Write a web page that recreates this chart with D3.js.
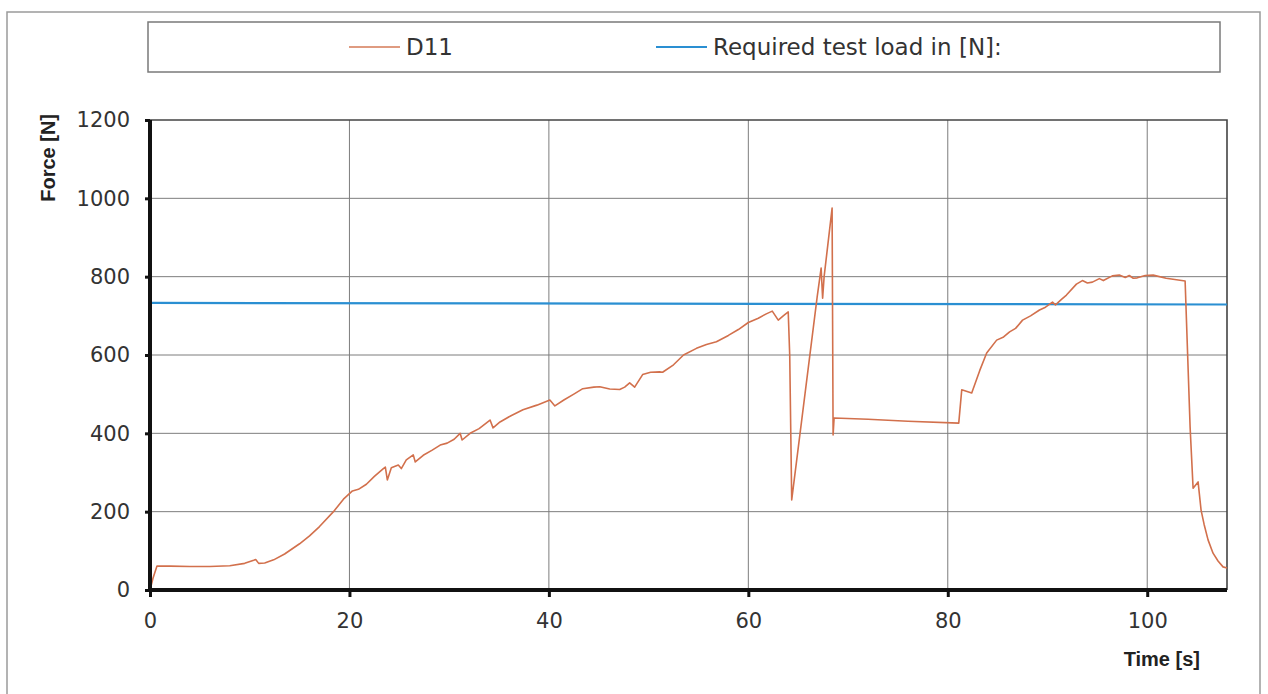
<!DOCTYPE html>
<html>
<head>
<meta charset="utf-8">
<script src="https://cdn.jsdelivr.net/npm/d3@7"></script>
<style>
  html, body { margin: 0; padding: 0; background: #fff; }
  svg { display: block; }
</style>
</head>
<body>
<svg id="chart" width="1268" height="694"></svg>
<script>
// D11 force curve (time in s, force in N)
const timeS = [
  0, 0.3, 0.7, 2, 4, 6, 8, 9.5, 10.4, 10.6, 10.9, 11.5, 12.4, 13.5, 15, 16, 17, 18.4, 19.4,
  20.3, 20.9, 21.7, 22.5, 23.4, 23.6, 23.8, 24.2, 24.9, 25.2, 25.7, 26.4, 26.6, 27.4, 28.3,
  29.1, 29.8, 30.5, 31.1, 31.3, 32.1, 33, 34.1, 34.4, 35.1, 36.2, 37.4, 38.8, 40.1, 40.6,
  41.5, 42.5, 43.4, 44.5, 45.1, 46.1, 47.1, 47.6, 48.1, 48.6, 49.4, 50.2, 51.1, 51.4, 52.5,
  53.5, 54.8, 55.8, 56.8, 58, 59, 60, 61, 61.8, 62.4, 63, 63.5, 64, 64.15, 64.35, 66.9,
  67.3, 67.45, 67.6, 68.4, 68.5, 68.6, 72, 76, 81.1, 81.4, 82.4, 83.2, 83.9, 84.9, 85.6,
  86.2, 86.8, 87.5, 88.3, 89.2, 89.8, 90.5, 90.8, 91.4, 91.9, 92.9, 93.5, 94, 94.5, 95.2,
  95.6, 96.5, 97.2, 97.8, 98.2, 98.6, 99, 99.8, 100.6, 101.9, 103.8, 104.3, 104.6, 105.1,
  105.4, 105.7, 106.1, 106.6, 107.1, 107.6, 108
];
const forceD11 = [
  0, 30, 61, 61, 60, 60, 62, 68, 76, 78, 68, 69, 77, 92, 118, 138, 162, 200, 232,
  253, 257, 270, 290, 310, 314, 281, 312, 319, 310, 332, 345, 327, 344, 357,
  370, 375, 385, 400, 383, 400, 412, 434, 414, 429, 445, 460, 472, 485, 470,
  485, 500, 514, 518, 519, 513, 512, 518, 529, 518, 550, 556, 557, 556, 575,
  600, 617, 627, 634, 650, 665, 683, 694, 705, 712, 689, 700, 710, 600, 230, 748,
  822, 745, 800, 975, 396, 439, 436, 431, 426, 511, 503, 560, 605, 638, 646,
  659, 668, 689, 700, 715, 722, 735, 728, 742, 753, 781, 790, 784, 786, 795,
  790, 802, 804, 798, 803, 796, 797, 803, 804, 796, 789, 416, 260, 276,
  204, 168, 128, 94, 74, 59, 56
];

// required test load line
const reqTime = [0, 108];
const reqLoad = [733, 729];

const xTicks = [0, 20, 40, 60, 80, 100];
const yTicks = [0, 200, 400, 600, 800, 1000, 1200];

const seriesNames = ["D11", "Required test load in [N]:"];
const seriesColors = ["#d2704c", "#2a8fd2"];

const svg = d3.select("#chart");

const margin = { left: 150, top: 120, right: 1268 - 1227, bottom: 694 - 590 };
const width = 1268 - margin.left - margin.right;
const height = 694 - margin.top - margin.bottom;

// outer frame of the figure
svg.append("rect")
  .attr("x", 7).attr("y", 12)
  .attr("width", 1253).attr("height", 700)
  .attr("fill", "#fff")
  .attr("stroke", "#9a9a9a")
  .attr("stroke-width", 1.5);

// legend
const legend = svg.append("g");
legend.append("rect")
  .attr("x", 148).attr("y", 22)
  .attr("width", 1072).attr("height", 50)
  .attr("fill", "#fff")
  .attr("stroke", "#7a7a7a")
  .attr("stroke-width", 1.5);

const legendX = [349, 656];
seriesNames.forEach((name, i) => {
  legend.append("line")
    .attr("x1", legendX[i]).attr("x2", legendX[i] + 51)
    .attr("y1", 47).attr("y2", 47)
    .attr("stroke", seriesColors[i])
    .attr("stroke-opacity", i === 0 ? 0.7 : 1)
    .attr("stroke-width", 2);
  legend.append("text")
    .attr("x", legendX[i] + 57)
    .attr("y", 55)
    .attr("font-family", "DejaVu Sans, Verdana, sans-serif")
    .attr("font-size", "23px")
    .attr("fill", "#333")
    .text(name);
});

const g = svg.append("g")
  .attr("transform", `translate(${margin.left},${margin.top})`);

const x = d3.scaleLinear().domain([0, 108]).range([0, width]);
const y = d3.scaleLinear().domain([0, 1200]).range([height, 0]);

// grid
g.append("g")
  .selectAll("line")
  .data(xTicks.filter(d => d > 0))
  .enter().append("line")
  .attr("x1", d => x(d)).attr("x2", d => x(d))
  .attr("y1", 0).attr("y2", height)
  .attr("stroke", "#7d7d7d").attr("stroke-width", 1);

g.append("g")
  .selectAll("line")
  .data(yTicks.filter(d => d > 0 && d < 1200))
  .enter().append("line")
  .attr("x1", 0).attr("x2", width)
  .attr("y1", d => y(d)).attr("y2", d => y(d))
  .attr("stroke", "#7d7d7d").attr("stroke-width", 1);

// top and right border of plot area
g.append("path")
  .attr("d", `M0,${y(1200)}H${x(108)}V${y(0)}`)
  .attr("fill", "none")
  .attr("stroke", "#444")
  .attr("stroke-width", 1.6);

// series lines
const line = d3.line()
  .x(d => x(d[0]))
  .y(d => y(d[1]));

g.append("path")
  .datum(d3.zip(reqTime, reqLoad))
  .attr("fill", "none")
  .attr("stroke", seriesColors[1])
  .attr("stroke-width", 2.2)
  .attr("d", line);

g.append("path")
  .datum(d3.zip(timeS, forceD11))
  .attr("fill", "none")
  .attr("stroke", seriesColors[0])
  .attr("stroke-width", 1.6)
  .attr("stroke-linejoin", "round")
  .attr("d", line);

// axes
const xAxis = g.append("g")
  .attr("transform", `translate(0,${height})`)
  .call(d3.axisBottom(x).tickValues(xTicks).tickSize(7).tickPadding(16).tickFormat(d3.format("d")));

const yAxis = g.append("g")
  .call(d3.axisLeft(y).tickValues(yTicks).tickSize(5).tickPadding(15).tickFormat(d3.format("d")));

[xAxis, yAxis].forEach(ax => {
  ax.select(".domain").attr("stroke", "#111").attr("stroke-width", 4);
  ax.selectAll(".tick line").attr("stroke", "#111").attr("stroke-width", 3);
  ax.selectAll(".tick text")
    .attr("font-family", "DejaVu Sans, Verdana, sans-serif")
    .attr("font-size", "21px")
    .attr("fill", "#333");
});
xAxis.select(".domain").attr("d", `M0,0H${width}`);
yAxis.select(".domain").attr("d", `M0,${height}V0`);

// axis titles
svg.append("text")
  .attr("transform", "translate(55,114) rotate(-90)")
  .attr("text-anchor", "end")
  .attr("font-family", "Liberation Sans, Arial, sans-serif")
  .attr("font-weight", "bold")
  .attr("font-size", "20px")
  .attr("fill", "#222")
  .text("Force [N]");

svg.append("text")
  .attr("x", 1200).attr("y", 666)
  .attr("text-anchor", "end")
  .attr("font-family", "Liberation Sans, Arial, sans-serif")
  .attr("font-weight", "bold")
  .attr("font-size", "20px")
  .attr("fill", "#222")
  .text("Time [s]");
</script>
</body>
</html>
